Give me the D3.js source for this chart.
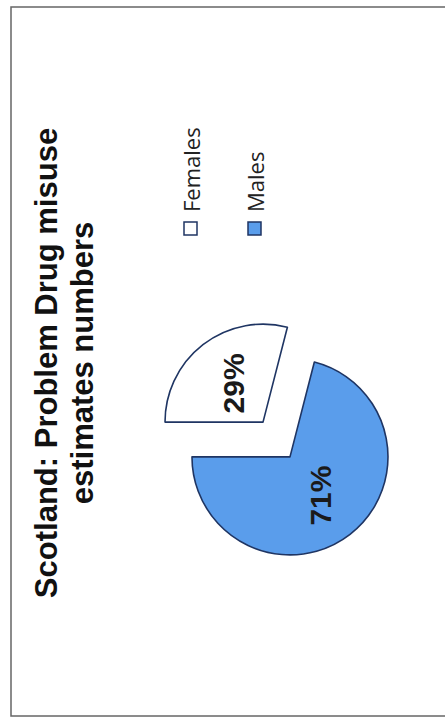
<!doctype html>
<html>
  <head>
    <meta charset="utf-8">
    <script src="https://cdnjs.cloudflare.com/ajax/libs/d3/7.8.5/d3.min.js"></script>
    <style>
      body { margin: 0; background: #fff; }
      svg { display: block; }
    </style>
  </head>
  <body>
    <svg width="445" height="728"></svg>
  <script>
    // chart data
    var categories = ["Females", "Males"];
    var values = [29, 71];
    var colors = ["#ffffff", "#5a9deb"];
    var titleLines = ["Scotland: Problem Drug misuse", "estimates numbers"];

    var svg = d3.select("svg");

    // page frame
    svg.append("rect")
      .attr("x", 11).attr("y", 7)
      .attr("width", 450).attr("height", 709)
      .style("fill", "none")
      .style("stroke", "#666")
      .style("stroke-width", 1.5);

    // title, turned on its side like the scan
    svg.selectAll(".title")
      .data(titleLines)
      .enter().append("text")
        .attr("class", "title")
        .attr("transform", (d, i) => `translate(${57 + i * 36},363) rotate(-90)`)
        .attr("text-anchor", "middle")
        .style("font-family", "Liberation Sans, Arial, sans-serif")
        .style("font-weight", "bold")
        .style("font-size", "31px")
        .style("fill", "#111")
        .text(d => d);

    // pie, drawn upright then rotated
    var r = 98, off = 22;
    var pie = d3.pie().sort(null).value(d => d);
    var arc = d3.arc().innerRadius(0).outerRadius(r);
    var arcs = pie(values);

    var g = svg.append("g")
      .attr("transform", "translate(276.5,439.5) rotate(-90)");

    var slice = g.selectAll(".slice")
      .data(arcs)
      .enter().append("g")
        .attr("class", "slice")
        .attr("transform", d => {
          var a = (d.startAngle + d.endAngle) / 2;
          return `translate(${Math.sin(a) * off},${-Math.cos(a) * off})`;
        });

    slice.append("path")
      .attr("d", arc)
      .style("fill", (d, i) => colors[i])
      .style("stroke", "#1f3563")
      .style("stroke-width", 1.6)
      .style("stroke-linejoin", "round");

    slice.append("text")
      .attr("transform", d => {
        var a = (d.startAngle + d.endAngle) / 2;
        return `translate(${Math.sin(a) * r * 0.5},${-Math.cos(a) * r * 0.5})`;
      })
      .attr("text-anchor", "middle")
      .attr("dy", "0.36em")
      .style("font-family", "Liberation Sans, Arial, sans-serif")
      .style("font-weight", "bold")
      .style("font-size", "30px")
      .style("fill", "#1a1a1a")
      .text(d => d.value + "%");

    // legend
    var legend = svg.selectAll(".legend")
      .data(categories)
      .enter().append("g")
        .attr("class", "legend")
        .attr("transform", (d, i) => `translate(${184 + i * 64},222)`);

    legend.append("rect")
      .attr("width", 13).attr("height", 13)
      .style("fill", (d, i) => colors[i])
      .style("stroke", "#1f3563")
      .style("stroke-width", 1.5);

    legend.append("text")
      .attr("transform", "translate(16,-10) rotate(-90)")
      .style("font-family", "Open Sans, sans-serif")
      .style("font-size", "22px")
      .style("fill", "#222")
      .text(d => d);
  </script>
  </body>
</html>
